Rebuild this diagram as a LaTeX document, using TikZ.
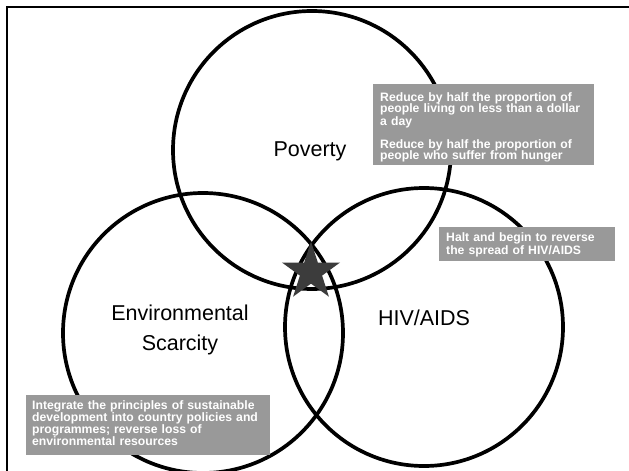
\documentclass[tikz,border=0pt]{standalone}
\usepackage{fontspec}
\setmainfont{Liberation Sans}
\usetikzlibrary{positioning}
\usetikzlibrary{shapes.geometric}

\definecolor{goalgray}{HTML}{999999}
\definecolor{stargray}{HTML}{3C3C3C}

\tikzset{
  ring/.style={line width=3.7pt,black},
  goaltext/.style={anchor=base west,inner sep=0pt,text=white,align=left,
    text width=#1,font=\bfseries\fontsize{12.2}{11.4}\selectfont},
  bigtext/.style={anchor=base,inner sep=0pt,align=center,text width=160pt,
    font=\fontsize{21.5}{30}\selectfont}
}

\begin{document}
\begin{tikzpicture}[x=1pt,y=-1pt]
 \clip (0,0) rectangle (629,471);
 \fill[white] (0,0) rectangle (629,471);
 \draw[line width=2pt] (7,480) |- (640,7);
 % the three circles
 \draw[ring] (312,150) circle[radius=139pt];
 \draw[ring] (203,333) circle[radius=140pt];
 \draw[ring] (424,327) circle[radius=139pt];
 % star at the common part
 \node[star,star points=5,star point ratio=2.618,minimum size=61pt,inner sep=0pt,
   fill=stargray,draw=none] (hub) at (311,272) {};
 % circle names
 \node[bigtext] (poverty) at (310,156.7) {Poverty};
 \node[bigtext] (hiv) at (424,325) {HIV/AIDS};
 \node[bigtext] (envir) at (180,320) {Environmental\\Scarcity};
 % goal boxes
 \fill[goalgray] (373,84) rectangle (594,164.5);
 \node[goaltext=210pt] (povgoal) at (380,101.5)
   {Reduce by half the proportion of\\people living on less than a dollar\\a day\\[11.4pt]Reduce by half the proportion of\\people who suffer from hunger};
 \fill[goalgray] (439,227) rectangle (615,261);
 \node[goaltext=170pt] (hivgoal) at (446,241.7)
   {Halt and begin to reverse\\the spread of HIV/AIDS};
 \fill[goalgray] (26,395) rectangle (270,455);
 \node[goaltext=240pt] (envgoal) at (32,409.3)
   {Integrate the principles of sustainable\\development into country policies and\\programmes; reverse loss of\\environmental resources};
\end{tikzpicture}
\end{document}
